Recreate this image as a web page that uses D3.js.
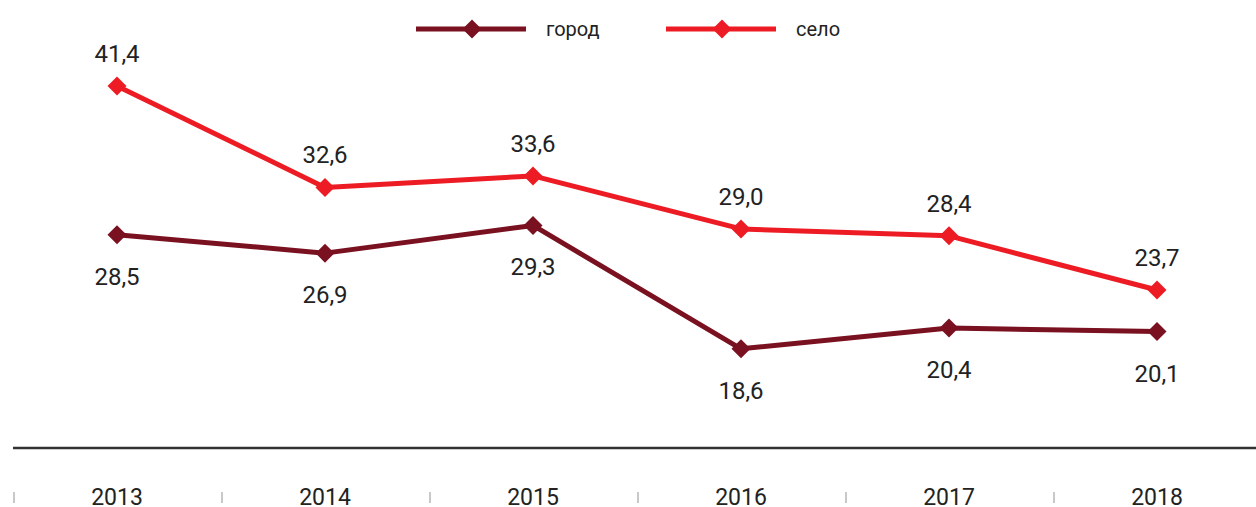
<!DOCTYPE html>
<html>
<head>
<meta charset="utf-8">
<script src="https://cdn.jsdelivr.net/npm/d3@7"></script>
<style>
  body { margin: 0; background: #fff; }
  svg { display: block; font-family: Roboto, sans-serif; }
</style>
</head>
<body>
<svg></svg>
<script>
let years = ['2013', '2014', '2015', '2016', '2017', '2018'];
let cityValues = [28.5, 26.9, 29.3, 18.6, 20.4, 20.1];
let villageValues = [41.4, 32.6, 33.6, 29.0, 28.4, 23.7];
let seriesNames = ['город', 'село'];

let width = 1256;
let height = 507;
let axisY = 448;

let svg = d3.select('svg').attr('width', width).attr('height', height);

// band scale, one band per year, separators between them
let xScale = d3.scaleBand().domain(years).range([13, 1261]);
let yScale = d3.scaleLinear().domain([10, 45]).range([axisY, axisY - 35 * 11.53]);

let fmt = (v) => d3.format('.1f')(v).replace('.', ',');

// base axis line
svg.append('line')
   .attr('x1', 13).attr('x2', width)
   .attr('y1', axisY).attr('y2', axisY)
   .attr('stroke', '#333').attr('stroke-width', 2.5);

// small grey separators at band edges
svg.selectAll('.sep')
   .data(years)
   .enter()
   .append('line')
   .attr('class', 'sep')
   .attr('x1', (d) => xScale(d) + 1).attr('x2', (d) => xScale(d) + 1)
   .attr('y1', 492).attr('y2', 503)
   .attr('stroke', '#c8c8c8').attr('stroke-width', 2);

svg.selectAll('.year')
   .data(years)
   .enter()
   .append('text')
   .attr('class', 'year')
   .attr('x', (d) => xScale(d) + xScale.bandwidth() / 2)
   .attr('y', 505)
   .attr('text-anchor', 'middle')
   .attr('font-size', 23)
   .attr('fill', '#222')
   .text((d) => d);

let diamond = d3.symbol().type(d3.symbolDiamond2).size(230);
let cx = (d, i) => xScale(years[i]) + xScale.bandwidth() / 2;

let drawSeries = (values, color, labelDy) => {
    let line = d3.line()
                 .x((d, i) => cx(d, i))
                 .y((d) => yScale(d));
    svg.append('path')
       .datum(values)
       .attr('d', line)
       .attr('fill', 'none')
       .attr('stroke', color)
       .attr('stroke-width', 5)
       .attr('stroke-linejoin', 'round');
    let g = svg.append('g');
    g.selectAll('path')
     .data(values)
     .enter()
     .append('path')
     .attr('d', diamond)
     .attr('transform', (d, i) => 'translate(' + cx(d, i) + ',' + yScale(d) + ')')
     .attr('fill', color);
    g.selectAll('text')
     .data(values)
     .enter()
     .append('text')
     .attr('x', (d, i) => cx(d, i))
     .attr('y', (d) => yScale(d) + labelDy)
     .attr('text-anchor', 'middle')
     .attr('font-size', 24)
     .attr('fill', '#222')
     .text((d) => fmt(d));
}

let cityColor = '#7a1120';
let villageColor = '#ed1c24';

drawSeries(cityValues, cityColor, 50);
drawSeries(villageValues, villageColor, -24);

// legend
let legendItems = [
    {name: seriesNames[0], color: cityColor, x: 416},
    {name: seriesNames[1], color: villageColor, x: 666}
];
legendItems.forEach((item) => {
    svg.append('line')
       .attr('x1', item.x).attr('x2', item.x + 110)
       .attr('y1', 29).attr('y2', 29)
       .attr('stroke', item.color).attr('stroke-width', 5);
    svg.append('path')
       .attr('d', diamond)
       .attr('transform', 'translate(' + (item.x + 56) + ',29)')
       .attr('fill', item.color);
    svg.append('text')
       .attr('x', item.x + 130)
       .attr('y', 36)
       .attr('font-size', 20)
       .attr('fill', '#222')
       .text(item.name);
});
</script>
</body>
</html>
